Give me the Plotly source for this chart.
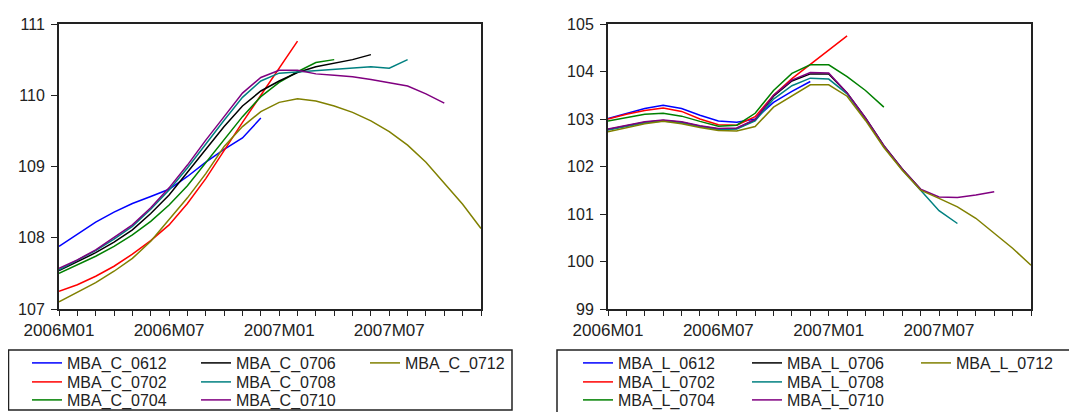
import plotly.graph_objects as go

# ---------------- data ----------------
months = ["2006M%02d" % m for m in range(1, 13)] + ["2007M%02d" % m for m in range(1, 13)]
tick_labels = ["2006M01", "2006M07", "2007M01", "2007M07"]

c_names = ["MBA_C_0612", "MBA_C_0702", "MBA_C_0704", "MBA_C_0706", "MBA_C_0708", "MBA_C_0710", "MBA_C_0712"]
l_names = ["MBA_L_0612", "MBA_L_0702", "MBA_L_0704", "MBA_L_0706", "MBA_L_0708", "MBA_L_0710", "MBA_L_0712"]

mba_c_0612 = [107.88, 108.05, 108.22, 108.36, 108.48, 108.58, 108.68, 108.86, 109.06, 109.24, 109.40, 109.68]
mba_c_0702 = [107.25, 107.34, 107.46, 107.60, 107.77, 107.96, 108.18, 108.48, 108.83, 109.23, 109.62, 110.00,
              110.38, 110.76]
mba_c_0704 = [107.50, 107.62, 107.74, 107.88, 108.04, 108.23, 108.46, 108.73, 109.05, 109.37, 109.70, 109.98,
              110.18, 110.33, 110.46, 110.50]
mba_c_0706 = [107.54, 107.66, 107.79, 107.94, 108.11, 108.34, 108.60, 108.92, 109.24, 109.56, 109.85, 110.06,
              110.20, 110.32, 110.40, 110.45, 110.50, 110.57]
mba_c_0708 = [107.55, 107.68, 107.82, 107.98, 108.16, 108.40, 108.67, 108.98, 109.32, 109.65, 109.97, 110.20,
              110.31, 110.33, 110.35, 110.36, 110.38, 110.40, 110.38, 110.50]
mba_c_0710 = [107.57, 107.69, 107.83, 108.00, 108.18, 108.42, 108.70, 109.02, 109.37, 109.70, 110.03, 110.25,
              110.35, 110.35, 110.30, 110.28, 110.26, 110.22, 110.17, 110.13, 110.02, 109.89]
mba_c_0712 = [107.10, 107.23, 107.37, 107.53, 107.71, 107.95, 108.25, 108.56, 108.90, 109.28, 109.56, 109.77,
              109.90, 109.95, 109.92, 109.85, 109.76, 109.64, 109.49, 109.30, 109.06, 108.77, 108.47, 108.13]

mba_l_0612 = [103.01, 103.12, 103.22, 103.29, 103.22, 103.08, 102.96, 102.93, 103.00, 103.35, 103.58, 103.79]
mba_l_0702 = [103.00, 103.10, 103.18, 103.23, 103.16, 103.00, 102.88, 102.87, 103.05, 103.50, 103.85, 104.14,
              104.45, 104.75]
mba_l_0704 = [102.96, 103.03, 103.10, 103.12, 103.06, 102.95, 102.85, 102.87, 103.12, 103.60, 103.96, 104.14,
              104.14, 103.89, 103.60, 103.25]
mba_l_0706 = [102.78, 102.85, 102.93, 102.97, 102.93, 102.85, 102.79, 102.80, 102.98, 103.48, 103.80, 103.95,
              103.95, 103.55, 103.02, 102.44, 101.95, 101.52]
mba_l_0708 = [102.77, 102.84, 102.92, 102.96, 102.92, 102.84, 102.78, 102.79, 102.96, 103.42, 103.70, 103.86,
              103.84, 103.53, 103.00, 102.42, 101.93, 101.50, 101.07, 100.80]
mba_l_0710 = [102.79, 102.86, 102.94, 102.98, 102.94, 102.86, 102.80, 102.81, 102.99, 103.50, 103.82, 103.98,
              103.97, 103.55, 103.02, 102.44, 101.95, 101.52, 101.36, 101.35, 101.40, 101.47]
mba_l_0712 = [102.73, 102.82, 102.90, 102.95, 102.90, 102.82, 102.76, 102.75, 102.84, 103.25, 103.48, 103.72,
              103.72, 103.48, 102.97, 102.40, 101.92, 101.50, 101.33, 101.15, 100.91, 100.60, 100.28, 99.92]

c_series = [mba_c_0612, mba_c_0702, mba_c_0704, mba_c_0706, mba_c_0708, mba_c_0710, mba_c_0712]
l_series = [mba_l_0612, mba_l_0702, mba_l_0704, mba_l_0706, mba_l_0708, mba_l_0710, mba_l_0712]

# ---------------- styles ----------------
colors = ["#0000ff", "#ff0000", "#008000", "#000000", "#008080", "#800080", "#808000"]
OFF = 8                      # the page body has an 8px margin
W, H = 1077 - OFF, 412 - OFF
FONT = "Arial, 'Liberation Sans', sans-serif"


def px_x(p):
    return (p - OFF) / W


def px_y(p):
    return 1 - (p - OFF) / H


fig = go.Figure()

# legend rows: row1 = 0612/0706/0712, row2 = 0702/0708, row3 = 0704/0710
left_legends = ["legend", "legend2", "legend3", "legend", "legend2", "legend3", "legend"]
right_legends = ["legend4", "legend5", "legend6", "legend4", "legend5", "legend6", "legend4"]

for i, (name, vals) in enumerate(zip(c_names, c_series)):
    fig.add_trace(go.Scatter(x=months[:len(vals)], y=vals, mode="lines", name=name,
                             line=dict(color=colors[i], width=1.5),
                             xaxis="x", yaxis="y", legend=left_legends[i]))
for i, (name, vals) in enumerate(zip(l_names, l_series)):
    fig.add_trace(go.Scatter(x=months[:len(vals)], y=vals, mode="lines", name=name,
                             line=dict(color=colors[i], width=1.5),
                             xaxis="x2", yaxis="y2", legend=right_legends[i]))

ticktext = [m if m in tick_labels else "" for m in months]
xcommon = dict(type="category", categoryorder="array", categoryarray=months, range=[0, len(months) - 1],
               tickmode="array", tickvals=months, ticktext=ticktext, ticks="outside", ticklen=5,
               tickwidth=1.2, tickcolor="#222", showline=True, linecolor="#222", linewidth=2, mirror=True,
               showgrid=False, zeroline=False, tickangle=0, automargin=False,
               tickfont=dict(family=FONT, size=17, color="#222"))
ycommon = dict(ticks="outside", ticklen=6, tickwidth=1.2, tickcolor="#222", showline=True, linecolor="#222",
               linewidth=2, mirror=True, showgrid=False, zeroline=False, dtick=1, automargin=False,
               ticklabelstandoff=3, tickfont=dict(family=FONT, size=16, color="#222"))

ydom = [px_y(309), px_y(24)]
fig.update_layout(
    width=W, height=H, margin=dict(l=0, r=0, t=0, b=0, autoexpand=False),
    paper_bgcolor="white", plot_bgcolor="white",
    xaxis=dict(domain=[px_x(59), px_x(481)], anchor="y", **xcommon),
    yaxis=dict(domain=ydom, anchor="x", range=[107, 111], **ycommon),
    xaxis2=dict(domain=[px_x(608), px_x(1031)], anchor="y2", **xcommon),
    yaxis2=dict(domain=ydom, anchor="x2", range=[99, 105], **ycommon),
)

leg_style = dict(orientation="h", xanchor="left", yanchor="middle", xref="container", yref="container",
                 bgcolor="rgba(0,0,0,0)", borderwidth=0, entrywidth=124, entrywidthmode="pixels",
                 font=dict(family=FONT, size=16, color="#222"))
row_y = [363, 382, 400]
legend_pos = {"legend": (27, row_y[0]), "legend2": (27, row_y[1]), "legend3": (27, row_y[2]),
              "legend4": (578, row_y[0]), "legend5": (578, row_y[1]), "legend6": (578, row_y[2])}
for key, (xp, yp) in legend_pos.items():
    fig.update_layout({key: dict(x=px_x(xp), y=px_y(yp), **leg_style)})

# legend frames
fig.add_shape(type="rect", xref="paper", yref="paper", x0=px_x(8.5), x1=px_x(512), y0=px_y(410), y1=px_y(350),
              line=dict(color="#222", width=1.5))
fig.add_shape(type="rect", xref="paper", yref="paper", x0=px_x(557), x1=px_x(1095), y0=px_y(420), y1=px_y(350),
              line=dict(color="#222", width=1.5))

fig.write_html("out.html")
